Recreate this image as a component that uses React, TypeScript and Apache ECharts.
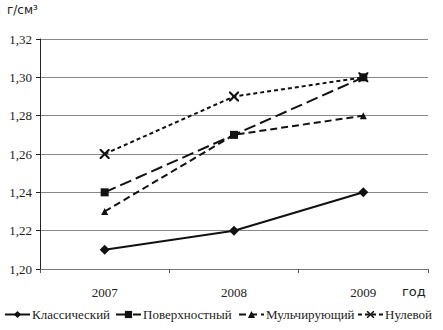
import React, { useEffect, useRef } from "react";
import * as echarts from "echarts";

const years = ["2007", "2008", "2009"];
const klassicheskiy = [1.21, 1.22, 1.24];
const poverkhnostny = [1.24, 1.27, 1.30];
const mulchiruyushchiy = [1.23, 1.27, 1.28];
const nulevoy = [1.26, 1.29, 1.30];
const seriesNames = ["Классический", "Поверхностный", "Мульчирующий", "Нулевой"];

const xPath =
  "path://M0,0 L1.5,0 L5,3.5 L8.5,0 L10,0 L10,1.5 L6.5,5 L10,8.5 L10,10 L8.5,10 L5,6.5 L1.5,10 L0,10 L0,8.5 L3.5,5 L0,1.5 Z";

export default function App() {
  const ref = useRef<HTMLDivElement>(null);
  useEffect(() => {
    if (!ref.current) return;
    const chart = echarts.init(ref.current, null, { renderer: "svg" });
    const font = "'Liberation Serif', 'Times New Roman', serif";
    const sans = "'DejaVu Sans', sans-serif";
    const mk = (name: string, data: number[], symbol: string, size: number, dash: any) => ({
      name,
      type: "line",
      data,
      symbol,
      symbolSize: size,
      itemStyle: { color: "#111" },
      lineStyle: { color: "#111", width: 2, type: dash },
    });
    const legendLefts = [4, 115, 238, 357];
    chart.setOption({
      animation: false,
      backgroundColor: "#fff",
      grid: { left: 40, right: 15, top: 39, bottom: 61 },
      xAxis: {
        type: "category",
        data: years,
        boundaryGap: true,
        axisLine: { lineStyle: { color: "#777", width: 1 } },
        axisTick: { show: true, length: 4, lineStyle: { color: "#555" } },
        axisLabel: { color: "#222", fontSize: 13, fontFamily: font, margin: 17 },
      },
      yAxis: {
        type: "value",
        min: 1.2,
        max: 1.32,
        interval: 0.02,
        axisLine: { show: true, lineStyle: { color: "#222", width: 1 } },
        axisTick: { show: true, length: 4, lineStyle: { color: "#222" } },
        axisLabel: {
          color: "#222",
          fontSize: 13,
          fontFamily: font,
          margin: 8,
          formatter: (v: number) => v.toFixed(2).replace(".", ","),
        },
        splitLine: { lineStyle: { color: "#888", width: 1 } },
      },
      legend: seriesNames.map((n, i) => ({
        top: 308,
        left: legendLefts[i],
        itemWidth: 25,
        itemHeight: 9,
        padding: 0,
        data: [n],
        textStyle: { color: "#222", fontSize: 13, fontFamily: font, padding: [0, 0, 0, -3] },
      })),
      graphic: [
        {
          type: "text",
          left: 7,
          top: 4,
          style: { text: "г/см³", fontSize: 12, fontFamily: sans, fill: "#222" },
        },
        {
          type: "text",
          left: 402,
          top: 285,
          style: { text: "год", fontSize: 13, fontFamily: sans, fill: "#222" },
        },
      ],
      series: [
        mk(seriesNames[0], klassicheskiy, "diamond", 10, "solid"),
        mk(seriesNames[1], poverkhnostny, "rect", 8, [12, 5]),
        mk(seriesNames[2], mulchiruyushchiy, "triangle", 7, [7, 4]),
        mk(seriesNames[3], nulevoy, xPath, 10, [4, 3]),
      ],
    });
    return () => chart.dispose();
  }, []);
  return <div ref={ref} style={{ width: 443, height: 330, position: "absolute", left: 0, top: 0 }} />;
}
